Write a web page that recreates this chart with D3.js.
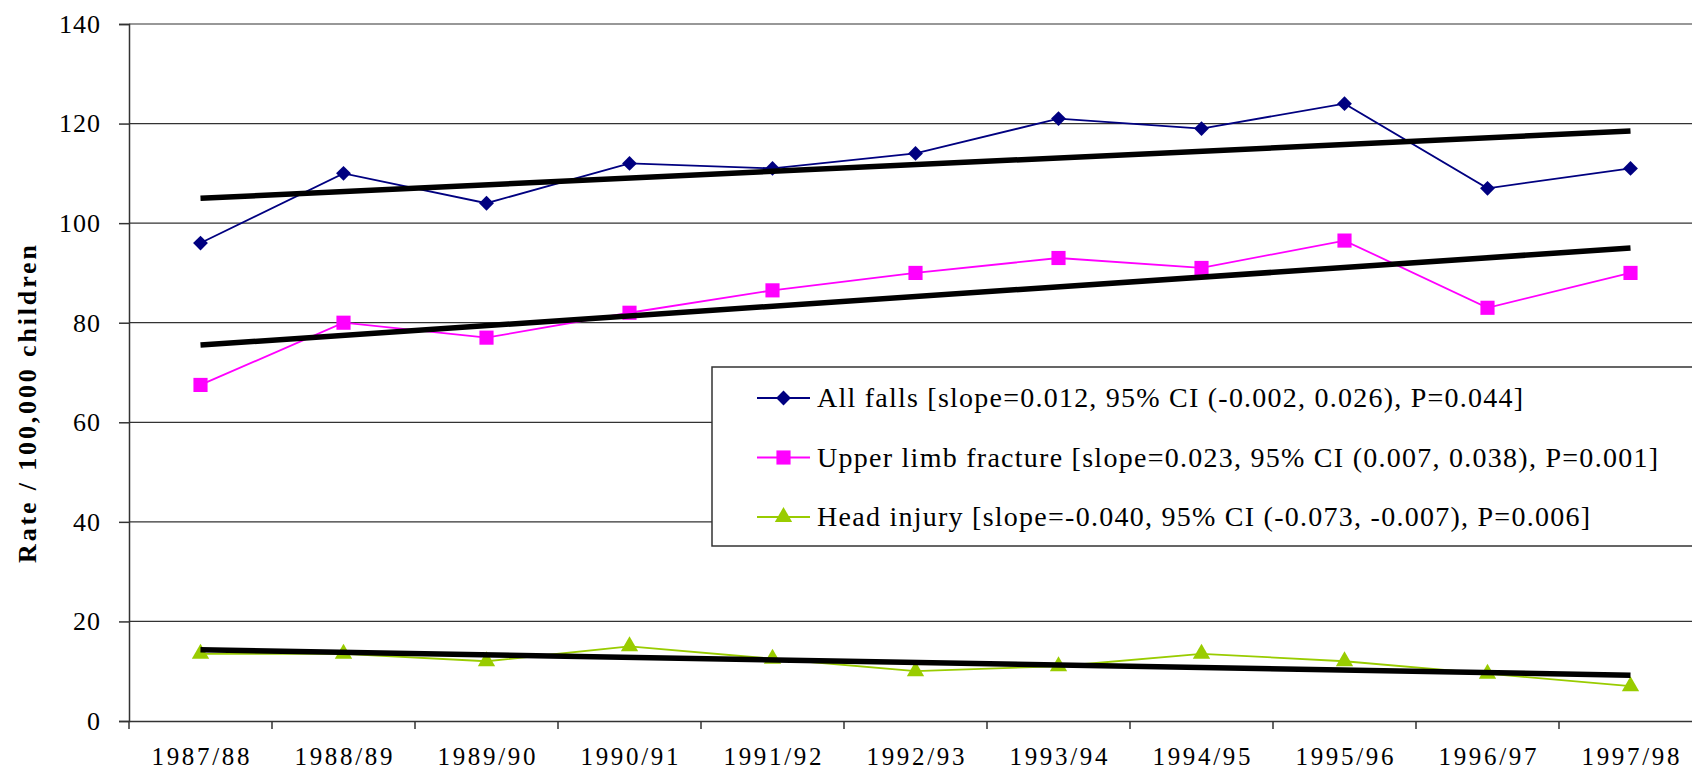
<!DOCTYPE html>
<html>
<head>
<meta charset="utf-8">
<script src="https://cdn.jsdelivr.net/npm/d3@7"></script>
<style>
  body { margin: 0; background: #fff; }
  svg { display: block; }
</style>
</head>
<body>
<svg id="chart" width="1692" height="770" font-family="Liberation Serif"></svg>
<script>
// data
const years = ["1987/88", "1988/89", "1989/90", "1990/91", "1991/92", "1992/93",
               "1993/94", "1994/95", "1995/96", "1996/97", "1997/98"];
const allFalls = [96, 110, 104, 112, 111, 114, 121, 119, 124, 107, 111];
const upperLimb = [67.5, 80, 77, 82, 86.5, 90, 93, 91, 96.5, 83, 90];
const headInjury = [13.5, 13.5, 12, 15, 12.5, 10, 11, 13.5, 12, 9.5, 7];
// trend line end points (first year, last year)
const trendAllFalls = [105, 118.5];
const trendUpperLimb = [75.5, 95];
const trendHeadInjury = [14.3, 9.2];
const yTicks = [0, 20, 40, 60, 80, 100, 120, 140];
const legendLabels = [
    "All falls [slope=0.012, 95% CI (-0.002, 0.026), P=0.044]",
    "Upper limb fracture [slope=0.023, 95% CI (0.007, 0.038), P=0.001]",
    "Head injury [slope=-0.040, 95% CI (-0.073, -0.007), P=0.006]"
];

const FONT = "Liberation Serif";
const svg = d3.select("#chart");
const plotLeft = 129, plotRight = 1702, plotTop = 24, plotBottom = 721;

const x = d3.scaleBand().domain(years).range([plotLeft, plotRight]).padding(0);
const y = d3.scaleLinear().domain([0, 140]).range([plotBottom, plotTop]);
const cx = d => x(d) + x.bandwidth() / 2;

// gridlines
svg.append("g")
    .selectAll("line")
    .data(yTicks.filter(d => d > 0))
    .enter()
    .append("line")
    .attr("x1", plotLeft).attr("x2", plotRight)
    .attr("y1", d => y(d)).attr("y2", d => y(d))
    .attr("stroke", "#333").attr("stroke-width", 1.2);

// y axis
const yAxis = svg.append("g")
    .attr("transform", `translate(${plotLeft},0)`)
    .call(d3.axisLeft(y).tickValues(yTicks).tickSize(10).tickPadding(18));
yAxis.attr("font-family", FONT);
yAxis.select(".domain").attr("stroke", "#333").attr("stroke-width", 1.5);
yAxis.selectAll(".tick line").attr("stroke", "#333").attr("stroke-width", 1.5);
yAxis.selectAll("text")
    .attr("font-family", FONT)
    .attr("font-size", 26).attr("fill", "#000")
    .attr("letter-spacing", 1);

// x axis
const xAxis = svg.append("g")
    .attr("transform", `translate(0,${plotBottom})`)
    .call(d3.axisBottom(x).tickSize(0).tickPadding(26));
xAxis.attr("font-family", FONT);
xAxis.select(".domain").attr("stroke", "#333").attr("stroke-width", 1.5);
xAxis.selectAll("text")
    .attr("font-family", FONT)
    .attr("font-size", 25).attr("fill", "#000")
    .attr("textLength", 98).attr("lengthAdjust", "spacing");
// category boundary ticks
svg.append("g")
    .selectAll("line")
    .data(years)
    .enter()
    .append("line")
    .attr("x1", d => x(d)).attr("x2", d => x(d))
    .attr("y1", plotBottom).attr("y2", plotBottom + 8)
    .attr("stroke", "#333").attr("stroke-width", 1.5);

// y axis title
svg.append("text")
    .attr("transform", "translate(36,404) rotate(-90)")
    .attr("text-anchor", "middle")
    .attr("font-family", FONT)
    .attr("font-size", 26)
    .attr("font-weight", "bold")
    .attr("textLength", 318).attr("lengthAdjust", "spacing")
    .text("Rate / 100,000 children");

const series = [
    { values: allFalls, color: "#000080", shape: d3.symbolDiamond2, size: 140 },
    { values: upperLimb, color: "#FF00FF", shape: d3.symbolSquare, size: 200 },
    { values: headInjury, color: "#99CC00", shape: d3.symbolTriangle, size: 130 }
];
const trends = [trendAllFalls, trendUpperLimb, trendHeadInjury];

const line = d3.line().x((d, i) => cx(years[i])).y(d => y(d));

series.forEach(s => {
    svg.append("path")
        .datum(s.values)
        .attr("d", line)
        .attr("fill", "none")
        .attr("stroke", s.color)
        .attr("stroke-width", 1.8);
    svg.append("g")
        .selectAll("path")
        .data(s.values)
        .enter()
        .append("path")
        .attr("transform", (d, i) => `translate(${cx(years[i])},${y(d)})`)
        .attr("d", d3.symbol().type(s.shape).size(s.size))
        .attr("fill", s.color);
});

// trend lines
trends.forEach(t => {
    svg.append("line")
        .attr("x1", cx(years[0])).attr("y1", y(t[0]))
        .attr("x2", cx(years[years.length - 1])).attr("y2", y(t[1]))
        .attr("stroke", "#000")
        .attr("stroke-width", 5.5);
});

// legend
const lg = svg.append("g");
lg.append("rect")
    .attr("x", 712).attr("y", 367)
    .attr("width", 1000).attr("height", 179)
    .attr("fill", "#fff")
    .attr("stroke", "#333").attr("stroke-width", 1.5);

const legendWidths = [706, 841, 773];
series.forEach((s, i) => {
    const ly = 398 + i * 59.5;
    lg.append("line")
        .attr("x1", 757).attr("x2", 810)
        .attr("y1", ly).attr("y2", ly)
        .attr("stroke", s.color).attr("stroke-width", 1.8);
    lg.append("path")
        .attr("transform", `translate(783.5,${ly})`)
        .attr("d", d3.symbol().type(s.shape).size(s.size))
        .attr("fill", s.color);
    lg.append("text")
        .attr("x", 817).attr("y", ly + 9)
        .attr("font-family", FONT)
        .attr("font-size", 28)
        .attr("fill", "#000")
        .attr("textLength", legendWidths[i]).attr("lengthAdjust", "spacing")
        .text(legendLabels[i]);
});
</script>
</body>
</html>
